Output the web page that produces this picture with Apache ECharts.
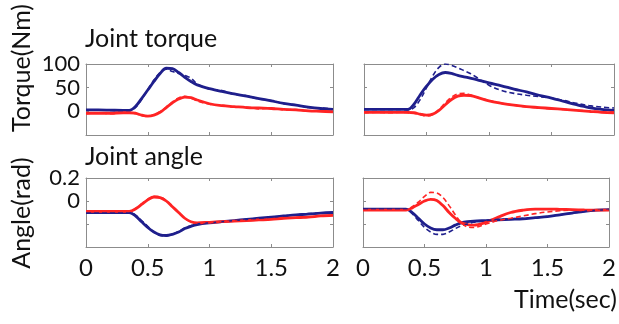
<!DOCTYPE html>
<html>
<head>
<meta charset="utf-8">
<script src="https://cdn.jsdelivr.net/npm/echarts@6/dist/echarts.min.js"></script>
<style>
html, body { margin: 0; padding: 0; background: #fff; }
#chart { width: 619px; height: 324px; }
</style>
</head>
<body>
<div id="chart"></div>
<script>
// time samples (sec)
var time = [0, 0.1, 0.2, 0.3, 0.35, 0.4, 0.45, 0.5, 0.55, 0.6, 0.65, 0.7, 0.75, 0.8, 0.85, 0.9,
    1.0, 1.1, 1.2, 1.3, 1.4, 1.5, 1.6, 1.7, 1.8, 1.9, 2.0];
var xTicks = [0, 0.5, 1, 1.5, 2];
var torqueTicks = [0, 50, 100];
var angleTicks = [0, 0.2];

// joint torque (Nm), left panel
var torqueLeftBlue = [3, 3, 2.5, 2, 2, 10, 27, 45, 63, 80, 91, 90, 82, 72, 63, 56, 48, 42, 37, 32, 27, 22, 17, 13, 9, 6, 4];
var torqueLeftBlueRef = [3, 3, 2, 2, 2, 8, 25, 46, 66, 82, 89, 84, 80, 76, 70, 58, 47, 44, 36, 33, 26, 23, 16, 14, 8, 7, 5];
var torqueLeftRed = [-4, -4, -4, -3, -3, -4, -8, -10, -8, -2, 8, 18, 26, 30, 29, 24, 16, 12, 10, 8, 7, 6, 4, 3, 1, 0, -1];
var torqueLeftRedRef = [-5, -3, -5, -3, -4, -5, -9, -11, -7, -1, 9, 20, 28, 32, 28, 22, 15, 13, 9, 9, 5, 7, 3, 4, 0, 1, -2];

// joint torque (Nm), right panel
var torqueRightBlue = [4, 4, 4, 4, 4, 15, 35, 53, 68, 78, 82, 80, 76, 73, 70, 67, 60, 54, 47, 41, 34, 28, 21, 14, 8, 4, 2];
var torqueRightBlueRef = [4, 4, 4, 4, 3, 8, 25, 50, 75, 93, 100, 97, 92, 86, 80, 72, 55, 44, 38, 34, 31, 28, 23, 17, 12, 9, 7];
var torqueRightRed = [-2, -2, -2, -2, -2, -3, -6, -8, -6, 2, 14, 25, 32, 34, 33, 30, 22, 17, 13, 10, 8, 6, 4, 2, 0, -2, -3];
var torqueRightRedRef = [-3, -2, -3, -2, -3, -4, -7, -10, -7, 4, 18, 30, 37, 38, 35, 30, 23, 17, 13, 9, 8, 5, 4, 2, 1, -1, -2];

// joint angle (rad), left panel
var angleLeftBlue = [-0.1, -0.1, -0.1, -0.1, -0.1, -0.13, -0.18, -0.23, -0.27, -0.295, -0.3, -0.29, -0.27, -0.24, -0.22, -0.205,
    -0.19, -0.18, -0.17, -0.16, -0.15, -0.14, -0.13, -0.12, -0.115, -0.105, -0.1];
var angleLeftBlueRef = [-0.1, -0.1, -0.1, -0.1, -0.1, -0.12, -0.17, -0.22, -0.27, -0.3, -0.305, -0.29, -0.265, -0.235, -0.215, -0.2,
    -0.19, -0.18, -0.17, -0.16, -0.15, -0.14, -0.13, -0.12, -0.11, -0.105, -0.1];
var angleLeftRed = [-0.09, -0.09, -0.09, -0.09, -0.09, -0.07, -0.03, 0.01, 0.035, 0.03, 0.0, -0.05, -0.1, -0.15, -0.18, -0.19,
    -0.185, -0.18, -0.175, -0.17, -0.165, -0.16, -0.15, -0.145, -0.14, -0.13, -0.125];
var angleLeftRedRef = [-0.09, -0.09, -0.09, -0.09, -0.09, -0.065, -0.025, 0.015, 0.04, 0.035, 0.005, -0.045, -0.1, -0.15, -0.18, -0.19,
    -0.185, -0.18, -0.175, -0.17, -0.165, -0.16, -0.15, -0.145, -0.14, -0.13, -0.125];

// joint angle (rad), right panel
var angleRightBlue = [-0.07, -0.07, -0.07, -0.07, -0.07, -0.1, -0.15, -0.2, -0.235, -0.25, -0.25, -0.235, -0.21, -0.19, -0.18, -0.175,
    -0.17, -0.165, -0.16, -0.155, -0.145, -0.135, -0.12, -0.105, -0.09, -0.08, -0.075];
var angleRightBlueRef = [-0.07, -0.07, -0.07, -0.07, -0.07, -0.11, -0.17, -0.23, -0.27, -0.29, -0.29, -0.27, -0.24, -0.215, -0.2, -0.185,
    -0.17, -0.16, -0.155, -0.15, -0.145, -0.135, -0.12, -0.105, -0.09, -0.08, -0.075];
var angleRightRed = [-0.08, -0.08, -0.08, -0.08, -0.08, -0.06, -0.03, 0.0, 0.015, 0.005, -0.04, -0.1, -0.15, -0.19, -0.205, -0.21,
    -0.185, -0.14, -0.1, -0.08, -0.07, -0.07, -0.072, -0.075, -0.078, -0.08, -0.08];
var angleRightRedRef = [-0.08, -0.08, -0.08, -0.08, -0.08, -0.05, -0.01, 0.04, 0.075, 0.07, 0.03, -0.04, -0.12, -0.19, -0.225, -0.23,
    -0.2, -0.17, -0.15, -0.13, -0.11, -0.095, -0.085, -0.08, -0.08, -0.08, -0.08];

var BLUE = '#1f1f8c';
var RED = '#ff2424';
var AXIS = '#8c8c8c';
var FONT = 'Lato';

function pairs(values) {
    var out = [];
    for (var i = 0; i < time.length; ++i) {
        out.push([time[i], values[i]]);
    }
    return out;
}

function line(idx, values, color, dashed) {
    return {
        type: 'line',
        xAxisIndex: idx * 2,
        yAxisIndex: idx * 2,
        data: pairs(values),
        smooth: 0.35,
        showSymbol: false,
        silent: true,
        z: dashed ? 3 : 2,
        lineStyle: {
            color: color,
            width: dashed ? 1.6 : 2.8,
            type: dashed ? [5, 3] : 'solid'
        }
    };
}

var grids = [
    { left: 86, top: 64, width: 247, height: 71 },
    { left: 364, top: 64, width: 250, height: 71 },
    { left: 86, top: 178, width: 247, height: 69 },
    { left: 363, top: 178, width: 250, height: 69 }
];
// y ranges for each panel
var yRanges = [
    { min: -50, max: 100, interval: 50, labels: torqueTicks },
    { min: -50, max: 100, interval: 50, labels: null },
    { min: -0.4, max: 0.2, interval: 0.2, labels: angleTicks },
    { min: -0.4, max: 0.2, interval: 0.2, labels: null }
];

var xAxes = [];
var yAxes = [];
for (var g = 0; g < 4; ++g) {
    var showX = g >= 2;
    var sides = ['bottom', 'top'];
    for (var s = 0; s < 2; ++s) {
        xAxes.push({
            type: 'value', gridIndex: g, position: sides[s],
            min: 0, max: 2, interval: 0.5,
            axisLine: { show: true, onZero: false, lineStyle: { color: AXIS, width: 1 } },
            axisTick: { show: true, inside: true, length: 3, lineStyle: { color: AXIS } },
            splitLine: { show: false },
            axisLabel: {
                show: showX && s == 0,
                margin: 9,
                color: '#111',
                fontFamily: FONT,
                fontSize: 24,
                formatter: function (v) {
                    return xTicks.indexOf(v) >= 0 ? String(v) : '';
                }
            }
        });
    }
    var yr = yRanges[g];
    var ysides = ['left', 'right'];
    for (var s2 = 0; s2 < 2; ++s2) {
        yAxes.push({
            type: 'value', gridIndex: g, position: ysides[s2],
            min: yr.min, max: yr.max, interval: yr.interval,
            axisLine: { show: true, onZero: false, lineStyle: { color: AXIS, width: 1 } },
            axisTick: { show: true, inside: true, length: 3, lineStyle: { color: AXIS } },
            splitLine: { show: false },
            axisLabel: {
                show: yr.labels != null && s2 == 0,
                margin: 6,
                color: '#111',
                fontFamily: FONT,
                fontSize: 22,
                formatter: (function (labels) {
                    return function (v) {
                        if (labels == null) return '';
                        for (var k = 0; k < labels.length; ++k) {
                            if (Math.abs(labels[k] - v) < 1e-9) return String(labels[k]);
                        }
                        return '';
                    };
                })(yr.labels)
            }
        });
    }
}

var series = [
    line(0, torqueLeftBlue, BLUE, false),
    line(0, torqueLeftRed, RED, false),
    line(0, torqueLeftBlueRef, BLUE, true),
    line(0, torqueLeftRedRef, RED, true),
    line(1, torqueRightBlue, BLUE, false),
    line(1, torqueRightRed, RED, false),
    line(1, torqueRightBlueRef, BLUE, true),
    line(1, torqueRightRedRef, RED, true),
    line(2, angleLeftBlue, BLUE, false),
    line(2, angleLeftRed, RED, false),
    line(2, angleLeftBlueRef, BLUE, true),
    line(2, angleLeftRedRef, RED, true),
    line(3, angleRightBlue, BLUE, false),
    line(3, angleRightRed, RED, false),
    line(3, angleRightBlueRef, BLUE, true),
    line(3, angleRightRedRef, RED, true)
];

var titleStyle = { color: '#111', fontFamily: FONT, fontSize: 25, fontWeight: 'normal' };
var option = {
    animation: false,
    backgroundColor: '#fff',
    title: [
        { text: 'Joint torque', left: 85, top: 26, padding: 0, textStyle: titleStyle },
        { text: 'Joint angle', left: 85, top: 144, padding: 0, textStyle: titleStyle },
        { text: 'Time(sec)', right: 2, top: 287, padding: 0, textStyle: titleStyle }
    ],
    graphic: [
        {
            type: 'text', x: 22, y: 68, rotation: Math.PI / 2,
            style: { text: 'Torque(Nm)', font: '25px Lato', fill: '#111', align: 'center', verticalAlign: 'middle' }
        },
        {
            type: 'text', x: 22, y: 213, rotation: Math.PI / 2,
            style: { text: 'Angle(rad)', font: '25px Lato', fill: '#111', align: 'center', verticalAlign: 'middle' }
        }
    ],
    grid: grids,
    xAxis: xAxes,
    yAxis: yAxes,
    series: series
};

echarts.init(document.getElementById('chart')).setOption(option);
</script>
</body>
</html>
